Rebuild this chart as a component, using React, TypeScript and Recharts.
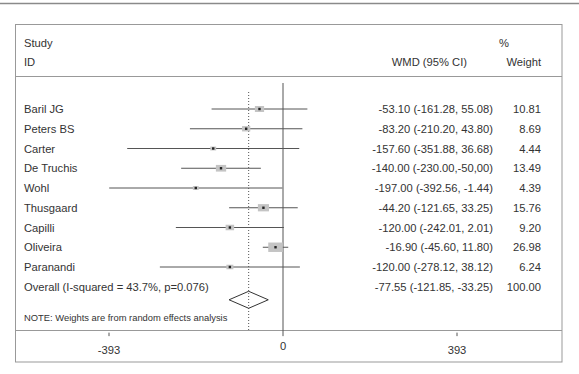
import React from "react";
import { ScatterChart, Scatter, XAxis, YAxis, ErrorBar, ReferenceLine } from "recharts";

const studies = ["Baril JG", "Peters BS", "Carter", "De Truchis", "Wohl", "Thusgaard", "Capilli", "Oliveira", "Paranandi"];
const wmd = [-53.1, -83.2, -157.6, -140.0, -197.0, -44.2, -120.0, -16.9, -120.0];
const ciLow = [-161.28, -210.2, -351.88, -230.0, -392.56, -121.65, -242.01, -45.6, -278.12];
const ciHigh = [55.08, 43.8, 36.68, -50.0, -1.44, 33.25, 2.01, 11.8, 38.12];
const weights = [10.81, 8.69, 4.44, 13.49, 4.39, 15.76, 9.2, 26.98, 6.24];
const ciLabels = [
  "-53.10 (-161.28, 55.08)",
  "-83.20 (-210.20, 43.80)",
  "-157.60 (-351.88, 36.68)",
  "-140.00 (-230.00,-50,00)",
  "-197.00 (-392.56, -1.44)",
  "-44.20 (-121.65, 33.25)",
  "-120.00 (-242.01, 2.01)",
  "-16.90 (-45.60, 11.80)",
  "-120.00 (-278.12, 38.12)",
];
const weightLabels = ["10.81", "8.69", "4.44", "13.49", "4.39", "15.76", "9.20", "26.98", "6.24"];

const overallLabel = "Overall (I-squared = 43.7%, p=0.076)";
const overallWmd = -77.55;
const overallLow = -121.85;
const overallHigh = -33.25;
const overallCiLabel = "-77.55 (-121.85, -33.25)";
const overallWeightLabel = "100.00";

const xTicks = [-393, 0, 393];

// layout (rows on the y axis)
const ROW_TICKS = [0, 1, 2, 3, 4, 5, 6, 7, 8, 9];
const DIAMOND_ROW = 9.66;
const DIAMOND_HALF = 0.43;
const FONT = "'Liberation Sans', Arial, sans-serif";
const TXT = "#333";
const LINE = "#555";

const studyData = studies.map((name, i) => ({
  name,
  x: wmd[i],
  y: i,
  w: weights[i],
  err: [wmd[i] - ciLow[i], ciHigh[i] - wmd[i]],
}));

const diamondData = [
  { x: overallLow, y: DIAMOND_ROW },
  { x: overallWmd, y: DIAMOND_ROW - DIAMOND_HALF },
  { x: overallHigh, y: DIAMOND_ROW },
  { x: overallWmd, y: DIAMOND_ROW + DIAMOND_HALF },
  { x: overallLow, y: DIAMOND_ROW },
];

const WeightBox = (props: any) => {
  const { cx, cy, payload } = props;
  const w = 2.8 * Math.sqrt(payload.w);
  const h = w * 0.65;
  return (
    <g>
      <rect x={cx - w / 2} y={cy - h / 2} width={w} height={h} fill="#c4c4c4" />
      <rect x={cx - 1.2} y={cy - 1.2} width={2.4} height={2.4} fill="#222" />
    </g>
  );
};

const StudyTick = (props: any) => {
  const { y, payload } = props;
  const label = payload.value === 9 ? overallLabel : studies[payload.value];
  return (
    <text x={24} y={y + 4} fill={TXT} fontSize={11.2} fontFamily={FONT} textAnchor="start">
      {label}
    </text>
  );
};

const ResultTick = (props: any) => {
  const { y, payload } = props;
  const i = payload.value;
  const ci = i === 9 ? overallCiLabel : ciLabels[i];
  const wt = i === 9 ? overallWeightLabel : weightLabels[i];
  return (
    <g fill={TXT} fontSize={11.2} fontFamily={FONT}>
      <text x={493} y={y + 4} textAnchor="end">{ci}</text>
      <text x={541} y={y + 4} textAnchor="end">{wt}</text>
    </g>
  );
};

const XTick = (props: any) => {
  const { x, y, payload } = props;
  const v = payload.value;
  return (
    <g>
      {v !== 0 && <line x1={x} x2={x} y1={y - 3.5} y2={y} stroke={LINE} />}
      <text x={x} y={v === 0 ? y + 14 : y + 18} fill={TXT} fontSize={11.2} fontFamily={FONT} textAnchor="middle">
        {v}
      </text>
    </g>
  );
};

export default function App() {
  return (
    <div style={{ position: "absolute", left: 0, top: 0, width: 579, height: 374, background: "#fff" }}>
      <svg width={579} height={374} style={{ position: "absolute", left: 0, top: 0 }}>
        <line x1={0} x2={579} y1={3.5} y2={3.5} stroke="#8a8a8a" strokeWidth={1.5} />
        <rect x={15.5} y={24.5} width={546.5} height={337.5} fill="none" stroke="#999" />
        <line x1={15.5} x2={562} y1={76.5} y2={76.5} stroke="#999" />
        <line x1={15.5} x2={562} y1={330.5} y2={330.5} stroke="#999" />
        <g fill={TXT} fontSize={11.2} fontFamily={FONT}>
          <text x={24} y={47}>Study</text>
          <text x={24} y={66}>ID</text>
          <text x={499} y={47}>%</text>
          <text x={467} y={66} textAnchor="end">WMD (95% CI)</text>
          <text x={541} y={66} textAnchor="end">Weight</text>
        </g>
        <text x={24} y={320.5} fill={TXT} fontSize={9.4} fontFamily={FONT}>
          NOTE: Weights are from random effects analysis
        </text>
      </svg>
      <div style={{ position: "absolute", left: 0, top: 0 }}>
        <ScatterChart width={579} height={374} margin={{ top: 79.375, right: 17, bottom: 7.875, left: 15 }}>
          <XAxis
            type="number"
            dataKey="x"
            domain={[-393, 393]}
            ticks={xTicks}
            allowDataOverflow
            axisLine={false}
            tickLine={false}
            tickSize={0}
            tickMargin={0}
            height={30}
            interval={0}
            tick={<XTick />}
          />
          <YAxis
            yAxisId="left"
            type="number"
            dataKey="y"
            domain={[-1.5, 11.5]}
            reversed
            allowDataOverflow
            ticks={ROW_TICKS}
            interval={0}
            axisLine={false}
            tickLine={false}
            width={94}
            tick={<StudyTick />}
          />
          <YAxis
            yAxisId="right"
            orientation="right"
            type="number"
            dataKey="y"
            domain={[-1.5, 11.5]}
            reversed
            allowDataOverflow
            ticks={ROW_TICKS}
            interval={0}
            axisLine={false}
            tickLine={false}
            width={105}
            tick={<ResultTick />}
          />
          <ReferenceLine
            yAxisId="left"
            segment={[{ x: 0, y: -1.316 }, { x: 0, y: 11.5 }]}
            stroke={LINE}
            strokeWidth={1}
            ifOverflow="visible"
          />
          <ReferenceLine
            yAxisId="left"
            segment={[{ x: overallWmd, y: -0.86 }, { x: overallWmd, y: 11.19 }]}
            stroke={LINE}
            strokeWidth={1}
            strokeDasharray="1 2"
            ifOverflow="visible"
          />
          <Scatter yAxisId="left" data={studyData} shape={<WeightBox />} isAnimationActive={false}>
            <ErrorBar dataKey="err" direction="x" width={0} stroke={LINE} strokeWidth={1} isAnimationActive={false} />
          </Scatter>
          <Scatter
            yAxisId="right"
            data={diamondData}
            line={{ stroke: "#333", strokeWidth: 1 }}
            lineType="joint"
            shape={() => <g />}
            isAnimationActive={false}
          />
        </ScatterChart>
      </div>
    </div>
  );
}
